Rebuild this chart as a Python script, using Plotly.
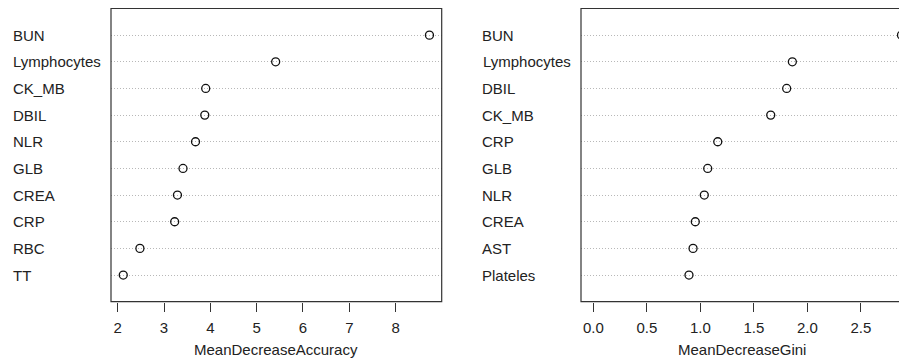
import plotly.graph_objects as go

W, H = 899, 363

# ---- data ----
acc_labels = ["BUN", "Lymphocytes", "CK_MB", "DBIL", "NLR", "GLB", "CREA", "CRP", "RBC", "TT"]
acc_values = [8.73, 5.41, 3.90, 3.88, 3.68, 3.41, 3.29, 3.23, 2.48, 2.12]

gini_labels = ["BUN", "Lymphocytes", "DBIL", "CK_MB", "CRP", "GLB", "NLR", "CREA", "AST", "Plateles"]
gini_values = [2.88, 1.86, 1.807, 1.658, 1.163, 1.069, 1.037, 0.953, 0.932, 0.894]

acc_ticks = [2, 3, 4, 5, 6, 7, 8]
acc_ticktext = ["2", "3", "4", "5", "6", "7", "8"]
gini_ticks = [0.0, 0.5, 1.0, 1.5, 2.0, 2.5]
gini_ticktext = ["0.0", "0.5", "1.0", "1.5", "2.0", "2.5"]

acc_title = "MeanDecreaseAccuracy"
gini_title = "MeanDecreaseGini"

FONT = "Liberation Sans, Arial, Helvetica, sans-serif"
TXT = "#222222"
LINE = "#333333"

# layout geometry (pixels)
L1, R1 = 111, 441.7
L2 = 581
TOP, BOT = 8.5, 301.7
ydom = [1 - BOT / H, 1 - TOP / H]

fig = go.Figure()

marker = dict(symbol="circle-open", size=8, color="#111", line=dict(width=1.3, color="#111"))
fig.add_trace(go.Scatter(
    x=acc_values, y=acc_labels, mode="markers", xaxis="x", yaxis="y",
    marker=marker, showlegend=False, cliponaxis=True,
))
fig.add_trace(go.Scatter(
    x=gini_values, y=gini_labels, mode="markers", xaxis="x2", yaxis="y2",
    marker=marker, showlegend=False, cliponaxis=True,
))

def xr(lo, hi):
    rng = hi - lo
    return [lo - 0.04 * rng, hi + 0.04 * rng]

acc_range = xr(min(acc_values), max(acc_values))
gini_full = xr(0, max(gini_values))
# right panel is cut off at the image edge: keep its scale (~107 px / unit)
unit_px = 107.0
gini_range = [gini_full[0], gini_full[0] + (W - L2) / unit_px]

common_x = dict(
    showgrid=False, zeroline=False, showline=False,
    ticks="outside", ticklen=9, tickwidth=1, tickcolor=LINE,
    ticklabelstandoff=3,
    tickfont=dict(family=FONT, size=15, color=TXT),
)
common_y = dict(
    type="category", showgrid=True, griddash="1px,2px", gridcolor="#b8b8b8", gridwidth=1,
    zeroline=False, showline=False, showticklabels=False, ticks="",
)

fig.update_layout(
    width=W, height=H,
    margin=dict(l=0, r=0, t=0, b=0),
    paper_bgcolor="white", plot_bgcolor="white",
    font=dict(family=FONT, size=15, color=TXT),
    xaxis=dict(domain=[L1 / W, R1 / W], range=acc_range, anchor="y",
               tickvals=acc_ticks, ticktext=acc_ticktext, **common_x),
    yaxis=dict(domain=ydom, anchor="x", range=[-1, len(acc_labels)],
               categoryorder="array", categoryarray=acc_labels[::-1], **common_y),
    xaxis2=dict(domain=[L2 / W, 1.0], range=gini_range, anchor="y2",
                tickvals=gini_ticks, ticktext=gini_ticktext, **common_x),
    yaxis2=dict(domain=ydom, anchor="x2", range=[-1, len(gini_labels)],
                categoryorder="array", categoryarray=gini_labels[::-1], **common_y),
)

# frames
fig.add_shape(type="rect", xref="x domain", yref="y domain", x0=0, x1=1, y0=0, y1=1,
              line=dict(color=LINE, width=1.2), fillcolor="rgba(0,0,0,0)", layer="above")
fig.add_shape(type="rect", xref="x2 domain", yref="y2 domain", x0=0, x1=1.2, y0=0, y1=1,
              line=dict(color=LINE, width=1.2), fillcolor="rgba(0,0,0,0)", layer="above")

# left-aligned category labels
for lab in acc_labels:
    fig.add_annotation(text=lab, x=11.0 / W, xref="paper", y=lab, yref="y",
                       xanchor="left", yanchor="middle", showarrow=False,
                       font=dict(family=FONT, size=15, color=TXT))
for lab in gini_labels:
    fig.add_annotation(text=lab, x=480.5 / W, xref="paper", y=lab, yref="y2",
                       xanchor="left", yanchor="middle", showarrow=False,
                       font=dict(family=FONT, size=15, color=TXT))

# axis titles
title_y = 1 - 349.5 / H
fig.add_annotation(text=acc_title, x=(L1 + R1) / 2 / W, xref="paper", y=title_y, yref="paper",
                   xanchor="center", yanchor="middle", showarrow=False,
                   font=dict(family=FONT, size=15, color=TXT))
fig.add_annotation(text=gini_title, x=741.7 / W, xref="paper", y=title_y, yref="paper",
                   xanchor="center", yanchor="middle", showarrow=False,
                   font=dict(family=FONT, size=15, color=TXT))

fig.write_html("out.html")
